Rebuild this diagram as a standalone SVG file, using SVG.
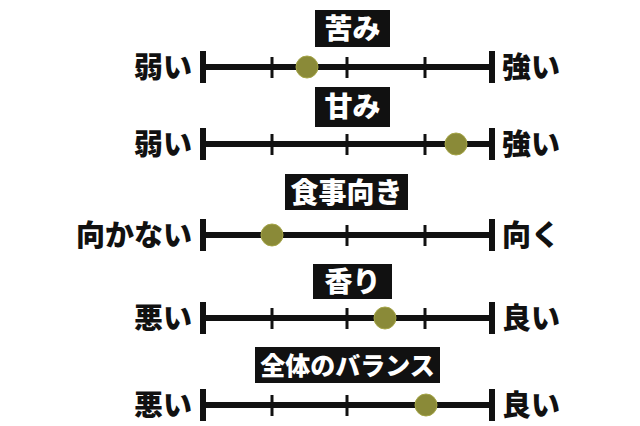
<svg xmlns="http://www.w3.org/2000/svg" width="640" height="426" viewBox="0 0 640 426">
<style>
.t{font-family:"Noto Sans CJK JP",sans-serif;font-weight:900;font-size:28px;fill:#fff;text-anchor:middle}
.l{font-family:"Noto Sans CJK JP",sans-serif;font-weight:900;font-size:29px;fill:#111}
.ln{stroke:#111;stroke-width:6}
.cap{stroke:#111;stroke-width:6}
.tk{stroke:#111;stroke-width:3}
.dot{fill:#8a8a38;stroke:#a5a548;stroke-width:1}
</style>
<defs>
<g id="scale">
<line class="ln" x1="203" y1="0" x2="492" y2="0"/>
<line class="cap" x1="203" y1="-16" x2="203" y2="16"/>
<line class="cap" x1="492" y1="-16" x2="492" y2="16"/>
<line class="tk" x1="272" y1="-10" x2="272" y2="11"/>
<line class="tk" x1="347" y1="-10" x2="347" y2="11"/>
<line class="tk" x1="425" y1="-10" x2="425" y2="11"/>
</g>
</defs>
<g id="row1">
<rect x="315" y="10" width="75" height="37" fill="#111"/><text class="t" x="352.5" y="39">苦み</text>
<use href="#scale" y="67"/>
<text class="l" x="192" y="78" text-anchor="end">弱い</text><text class="l" x="502" y="78">強い</text>
<circle class="dot" cx="307" cy="67" r="11"/>
</g>
<g id="row2">
<rect x="315" y="87" width="75" height="40" fill="#111"/><text class="t" x="352.5" y="117">甘み</text>
<use href="#scale" y="144"/>
<text class="l" x="192" y="155" text-anchor="end">弱い</text><text class="l" x="502" y="155">強い</text>
<circle class="dot" cx="456" cy="144" r="11"/>
</g>
<g id="row3">
<rect x="285" y="174" width="123" height="36" fill="#111"/><text class="t" x="346.5" y="203">食事向き</text>
<use href="#scale" y="235"/>
<text class="l" x="192" y="246" text-anchor="end">向かない</text><text class="l" x="502" y="246">向く</text>
<circle class="dot" cx="272" cy="235" r="11"/>
</g>
<g id="row4">
<rect x="313" y="264" width="79" height="35" fill="#111"/><text class="t" x="352.5" y="292">香り</text>
<use href="#scale" y="318"/>
<text class="l" x="192" y="329" text-anchor="end">悪い</text><text class="l" x="502" y="329">良い</text>
<circle class="dot" cx="385" cy="318" r="11"/>
</g>
<g id="row5">
<rect x="255" y="347" width="185" height="36" fill="#111"/><text class="t" x="347.5" y="375" style="font-size:25px">全体のバランス</text>
<use href="#scale" y="405"/>
<text class="l" x="192" y="416" text-anchor="end">悪い</text><text class="l" x="502" y="416">良い</text>
<circle class="dot" cx="426" cy="405" r="11"/>
</g>
</svg>
